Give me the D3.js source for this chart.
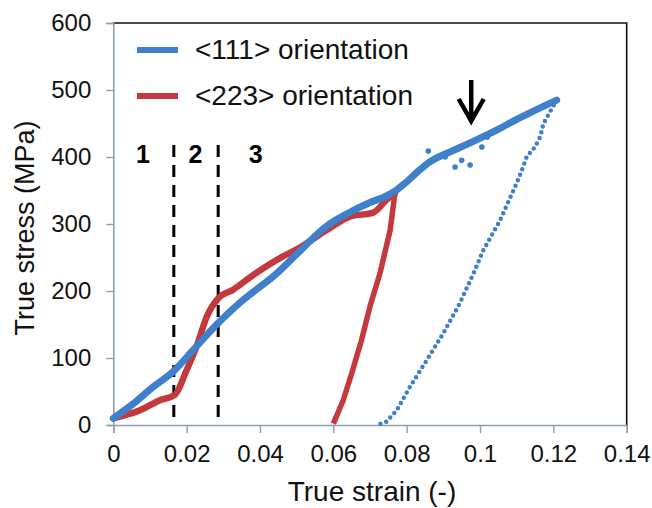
<!DOCTYPE html>
<html>
<head>
<meta charset="utf-8">
<script src="https://cdn.jsdelivr.net/npm/d3@7"></script>
<style>
  body { margin: 0; background: #fff; }
  svg { display: block; font-family: Arial, "Liberation Sans", sans-serif; }
</style>
</head>
<body>
<div id="chart"></div>
<script>
// data (strain, stress in MPa)
const blueLoad = [
  [0.000, 10], [0.0055, 32], [0.0109, 57], [0.0164, 80], [0.0218, 112],
  [0.0282, 150], [0.0355, 187], [0.0445, 226], [0.050, 255], [0.0582, 297],
  [0.0640, 316], [0.070, 332], [0.0745, 342], [0.0773, 351], [0.0800, 363],
  [0.0830, 378], [0.0864, 393], [0.0920, 408], [0.0973, 421], [0.1045, 440],
  [0.1100, 456], [0.1136, 466], [0.1209, 485]
];
const blueUnload = [
  [0.1209, 485], [0.1173, 450], [0.1164, 430], [0.1150, 415], [0.1127, 400],
  [0.1114, 380], [0.1100, 361], [0.1055, 306], [0.1009, 261], [0.0982, 226],
  [0.0945, 182], [0.0900, 137], [0.0855, 97], [0.0809, 57], [0.0773, 22],
  [0.0745, 5], [0.0723, 1]
];
const blueScatter = [
  [0.0932, 385], [0.0973, 388], [0.0859, 409], [0.0905, 400], [0.1005, 415],
  [0.0950, 395], [0.1020, 430]
];
const redLoad = [
  [0.000, 10], [0.0073, 22], [0.0127, 37], [0.0168, 45], [0.020, 82],
  [0.0227, 117], [0.0255, 162], [0.0286, 189], [0.0327, 202], [0.0382, 224],
  [0.0464, 252], [0.050, 262], [0.0582, 291], [0.0645, 311],
  [0.0709, 317], [0.0745, 336], [0.0768, 346]
];
const redUnload = [
  [0.0768, 346], [0.0755, 291], [0.0727, 226], [0.0700, 177], [0.0677, 127],
  [0.0650, 77], [0.0627, 37], [0.0600, 2]
];

const xTicks = [0, 0.02, 0.04, 0.06, 0.08, 0.1, 0.12, 0.14];
const xTickLabels = ["0", "0.02", "0.04", "0.06", "0.08", "0.1", "0.12", "0.14"];
const yTicks = [0, 100, 200, 300, 400, 500, 600];
const yTickLabels = ["0", "100", "200", "300", "400", "500", "600"];

const seriesNames = ["<111> orientation", "<223> orientation"];
const stageLines = [0.0165, 0.0286];
const stageLabels = [["1", 0.0081], ["2", 0.0224], ["3", 0.0388]];
const arrowAt = [0.0976, 470];

const blue = "#3f7fcb";
const red = "#c4393d";
const axisGrey = "#8b9fb3";

const width = 652, height = 508;
const plotLeft = 113.3, plotRight = 626.7, plotTop = 23, plotBottom = 425;

const svg = d3.select("#chart").append("svg")
  .attr("width", width)
  .attr("height", height);

const x = d3.scaleLinear().domain([0, 0.14]).range([plotLeft, plotRight]);
const y = d3.scaleLinear().domain([0, 600]).range([plotBottom, plotTop]);

// frame top + right
svg.append("path")
  .attr("d", `M${plotLeft},${plotTop}H${plotRight}V${plotBottom}`)
  .attr("fill", "none")
  .attr("stroke", "#111")
  .attr("stroke-width", 1.6);

// axes
const xAxis = svg.append("g")
  .attr("transform", `translate(0,${plotBottom})`)
  .call(d3.axisBottom(x).tickValues(xTicks)
    .tickFormat((d, i) => xTickLabels[i]).tickSize(8).tickPadding(12));
const yAxis = svg.append("g")
  .attr("transform", `translate(${plotLeft},0)`)
  .call(d3.axisLeft(y).tickValues(yTicks)
    .tickFormat((d, i) => yTickLabels[i]).tickSize(7).tickPadding(15));

[xAxis, yAxis].forEach(g => {
  g.select(".domain").attr("stroke", axisGrey).attr("stroke-width", 1.6);
  g.selectAll(".tick line").attr("stroke", axisGrey).attr("stroke-width", 1.4);
  g.selectAll(".tick text")
    .attr("fill", "#111")
    .style("font-size", "24px");
});

// stage boundaries
svg.selectAll(".stage")
  .data(stageLines)
  .join("line")
  .attr("x1", d => x(d)).attr("x2", d => x(d))
  .attr("y1", 145).attr("y2", plotBottom)
  .attr("stroke", "#000")
  .attr("stroke-width", 3)
  .attr("stroke-dasharray", "12,8");

svg.selectAll(".stageLabel")
  .data(stageLabels)
  .join("text")
  .attr("x", d => x(d[1]))
  .attr("y", 163)
  .attr("text-anchor", "middle")
  .style("font-size", "25px")
  .style("font-weight", "bold")
  .text(d => d[0]);

const line = d3.line().x(d => x(d[0])).y(d => y(d[1]));
const smooth = d3.line().x(d => x(d[0])).y(d => y(d[1])).curve(d3.curveMonotoneX);

// red curve
svg.append("path")
  .attr("d", smooth(redLoad))
  .attr("fill", "none")
  .attr("stroke", red)
  .attr("stroke-width", 6.5)
  .attr("stroke-linejoin", "round")
  .attr("stroke-linecap", "round");
svg.append("path")
  .attr("d", line(redUnload))
  .attr("fill", "none")
  .attr("stroke", red)
  .attr("stroke-width", 5.5)
  .attr("stroke-linejoin", "round");

// blue curve
svg.append("path")
  .attr("d", smooth(blueLoad))
  .attr("fill", "none")
  .attr("stroke", blue)
  .attr("stroke-width", 7)
  .attr("stroke-linejoin", "round")
  .attr("stroke-linecap", "round");

svg.append("path")
  .attr("d", line(blueUnload))
  .attr("fill", "none")
  .attr("stroke", blue)
  .attr("stroke-width", 4.5)
  .attr("stroke-linecap", "round")
  .attr("stroke-dasharray", "0,6");

svg.selectAll(".scatter")
  .data(blueScatter)
  .join("circle")
  .attr("cx", d => x(d[0]))
  .attr("cy", d => y(d[1]))
  .attr("r", 2.8)
  .attr("fill", blue);

// arrow
const ax = x(arrowAt[0]);
svg.append("path")
  .attr("d", `M${ax},80V121M${ax - 12.5},99L${ax},121L${ax + 12.5},99`)
  .attr("fill", "none")
  .attr("stroke", "#000")
  .attr("stroke-width", 4.5);

// legend
const legend = svg.append("g");
seriesNames.forEach((name, i) => {
  const ly = 50 + i * 46;
  legend.append("line")
    .attr("x1", 137).attr("x2", 178)
    .attr("y1", ly).attr("y2", ly)
    .attr("stroke", i === 0 ? blue : red)
    .attr("stroke-width", 6);
  legend.append("text")
    .attr("x", 195)
    .attr("y", ly + 9)
    .style("font-size", "28px")
    .attr("fill", "#111")
    .text(name);
});

// axis titles
svg.append("text")
  .attr("x", 372)
  .attr("y", 501)
  .attr("text-anchor", "middle")
  .style("font-size", "28px")
  .attr("fill", "#111")
  .text("True strain (-)");

svg.append("text")
  .attr("transform", "translate(34,228) rotate(-90)")
  .attr("text-anchor", "middle")
  .style("font-size", "27px")
  .attr("fill", "#111")
  .text("True stress (MPa)");
</script>
</body>
</html>
